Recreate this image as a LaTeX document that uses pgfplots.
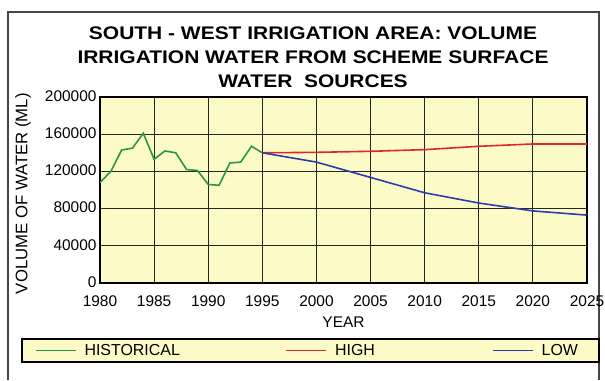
\documentclass[border=0pt]{standalone}
\usepackage{fontspec}
\setmainfont{Liberation Sans}
\newfontfamily\titlefont[FakeStretch=1.15]{Liberation Sans}
\usepackage{pgfplots}
\pgfplotsset{compat=1.18}

\definecolor{paleyellow}{RGB}{252,250,198}
\definecolor{histgreen}{RGB}{40,150,70}
\definecolor{highred}{RGB}{222,40,40}
\definecolor{lowblue}{RGB}{45,60,175}
\definecolor{framegray}{RGB}{70,70,70}

\begin{document}
\begin{tikzpicture}[x=1bp,y=1bp]
  % page area and outer frame
  \useasboundingbox (0,0) rectangle (605,380);
  \draw[framegray, line width=1.2bp] (8,0) -- (8,368) -- (599,368) -- (599,0);

  % title
  \node[font=\titlefont\bfseries\fontsize{18.3}{24}\selectfont, align=center] at (313,323)
    {SOUTH - WEST IRRIGATION AREA: VOLUME\\IRRIGATION WATER FROM SCHEME SURFACE\\WATER\ \ SOURCES};

  \begin{axis}[
    at={(100bp,97bp)}, anchor=south west,
    width=487bp, height=186bp, scale only axis,
    xmin=1980, xmax=2025, ymin=0, ymax=200000,
    xtick={1980,1985,...,2025},
    ytick={0,40000,80000,120000,160000,200000},
    scaled y ticks=false,
    /pgf/number format/.cd, fixed, precision=0, set thousands separator={}, assume math mode=true, /pgfplots/.cd,
    major tick length=0pt,
    grid=major,
    major grid style={black!85, line width=0.9bp},
    axis line style={black, line width=1.8bp},
    axis background/.style={fill=paleyellow},
    tick label style={font=\fontsize{15.5}{18}\selectfont},
    xticklabel style={yshift=-9bp},
    yticklabel style={yshift=1bp},
    xlabel={YEAR},
    xlabel style={font=\fontsize{15.5}{18}\selectfont, at={(0.5,-0.21)}, anchor=center},
    ylabel={VOLUME OF WATER (ML)},
    ylabel style={font=\fontsize{16.8}{18}\selectfont, at={(-0.158,0.48)}, anchor=center},
    legend columns=3,
    legend image code/.code={\draw[#1] (0bp,0bp) -- (40bp,0bp);},
    legend style={
      at={(-0.1622,-0.296)}, anchor=north west,
      fill=paleyellow, draw=black, line width=1.8bp,
      inner xsep=13bp, inner ysep=5bp,
      nodes={inner sep=0pt, text depth=0.2em, font=\fontsize{16}{18}\selectfont},
      /tikz/every odd column/.append style={column sep=8bp},
    },
  ]
    % recorded volumes
    \addplot[histgreen, line width=1.6bp] coordinates {
      (1980,108000) (1981,120000) (1982,143000) (1983,145000) (1984,161000)
      (1985,133000) (1986,142000) (1987,140000) (1988,122000) (1989,121000)
      (1990,106000) (1991,105000) (1992,129000) (1993,130000) (1994,147000)
      (1995,140000)
    };
    \addlegendentry{\makebox[201bp][l]{HISTORICAL}}
    % high projection
    \addplot[highred, line width=1.6bp] coordinates {
      (1995,140000) (2000,140500) (2005,141600) (2010,143400)
      (2015,147000) (2020,149500) (2025,149500)
    };
    \addlegendentry{\makebox[157bp][l]{HIGH}}
    % low projection
    \addplot[lowblue, line width=1.6bp] coordinates {
      (1995,140000) (2000,130000) (2005,113500) (2010,97000)
      (2015,86000) (2020,77500) (2025,73000)
    };
    \addlegendentry{\makebox[44bp][l]{LOW}}
  \end{axis}
\end{tikzpicture}
\end{document}
